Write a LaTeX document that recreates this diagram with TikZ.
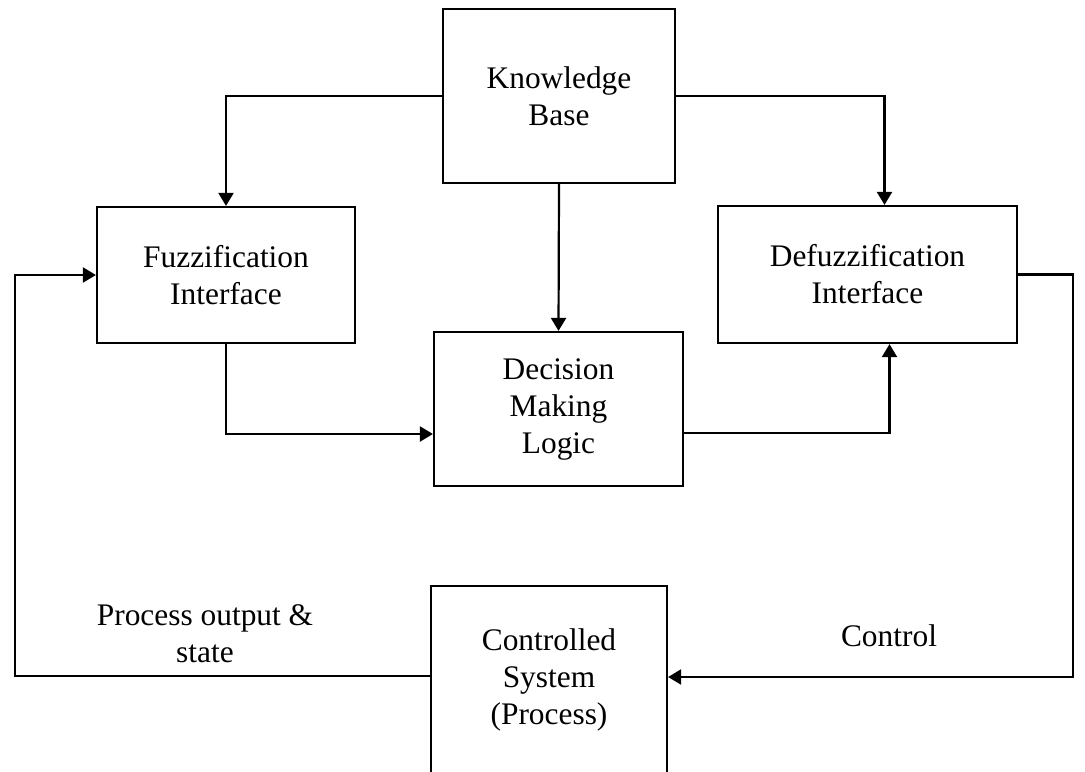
\documentclass[tikz,border=0pt]{standalone}
\usepackage{fontspec}
\setmainfont{Liberation Serif}
\usetikzlibrary{arrows.meta}

\begin{document}
\begin{tikzpicture}[x=0.5pt,y=-0.5pt,line width=1.1pt,
    every node/.style={font=\fontsize{15.7}{18.5}\selectfont, align=center},
    block/.style={draw, inner sep=0pt},
    arr/.style={-{Triangle[length=6.5pt,width=7.5pt]}}]
    \useasboundingbox (0,0) rectangle (1085,771);

    % blocks
    \node[block, minimum width=116pt, minimum height=87pt] (kb) at (559,96) {Knowledge\\Base};
    \node[block, minimum width=129pt, minimum height=68pt] (fuzz) at (226,275) {Fuzzification\\Interface};
    \node[block, minimum width=149.5pt, minimum height=68.5pt] (defuzz) at (867.5,274.5) {Defuzzification\\Interface};
    \node[block, minimum width=124.5pt, minimum height=77pt] (dml) at (558.5,409) {Decision\\Making\\Logic};
    \node[block, minimum width=118pt, minimum height=94pt] (cs) at (549,680) {Controlled\\System\\(Process)};

    % labels
    \node (pout) at (205,634) {Process output \&\\state};
    \node (ctrl) at (889,636) {Control};

    % connectors
    \coordinate (ctl) at (1073,677);
    \coordinate (fb) at (15,676);
    \draw[arr] (kb.west) -| (fuzz.north);
    \draw[arr] (kb.east) -| ([xshift=8.5pt]defuzz.north);
    \draw[arr] (kb.south) -- (dml.north);
    \draw[arr] (fuzz.south) |- ([yshift=-12.5pt]dml.west);
    \draw[arr] ([yshift=-12pt]dml.east) -| ([xshift=11pt]defuzz.south);
    \draw[arr] (defuzz.east) -| (ctl) -- (ctl -| cs.east);
    \draw[arr] (fb -| cs.west) -- (fb) |- (fuzz.west);

\end{tikzpicture}
\end{document}
